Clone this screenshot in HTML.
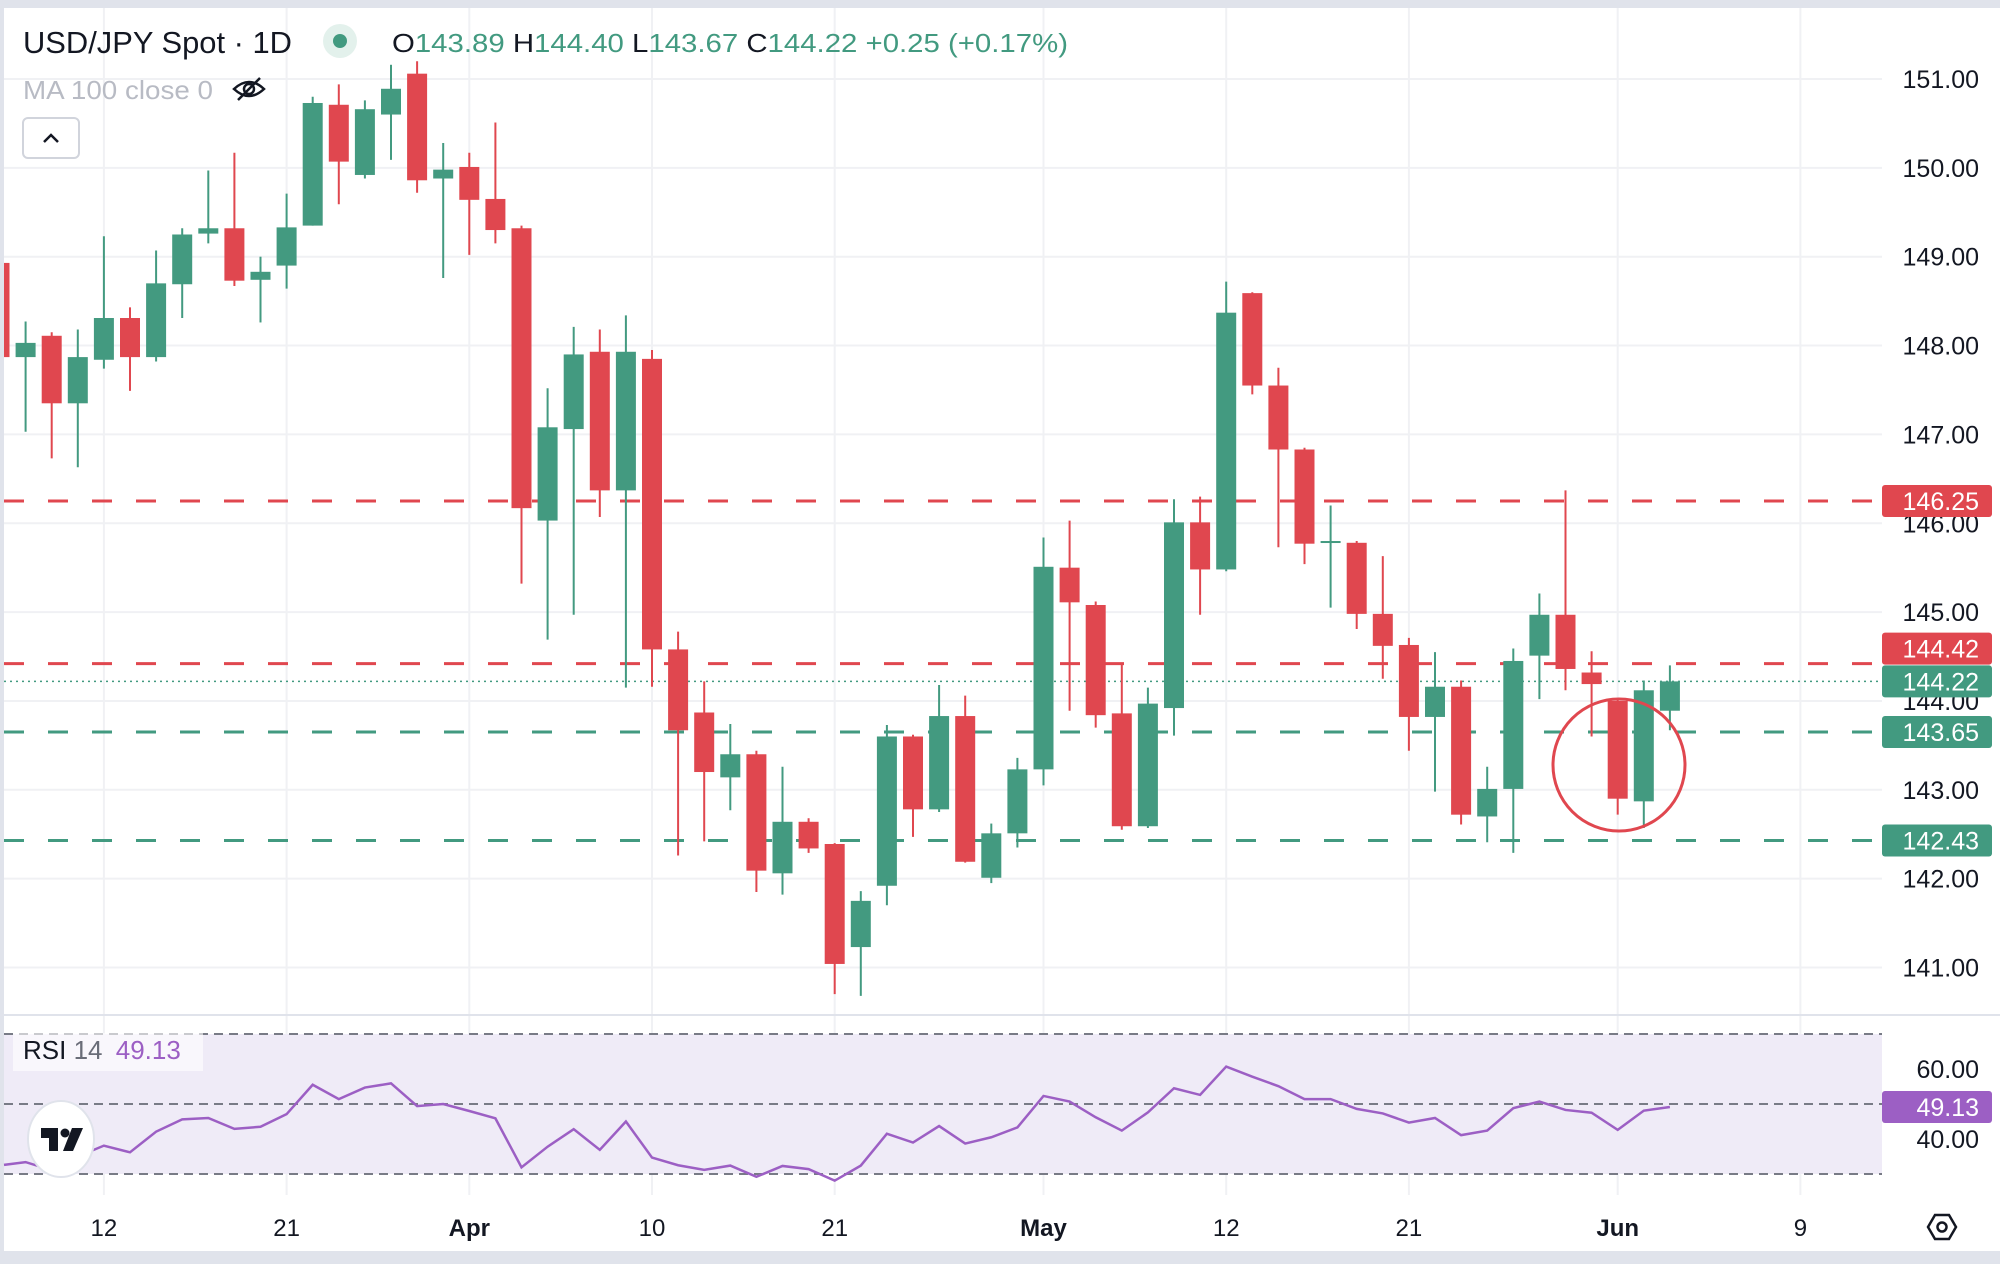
<!DOCTYPE html>
<html><head><meta charset="utf-8"><style>
html,body{margin:0;padding:0;background:#fff;}
svg{display:block;font-family:"Liberation Sans",sans-serif;}
</style></head><body>
<svg id="chart" width="2000" height="1264" viewBox="0 0 2000 1264" xmlns="http://www.w3.org/2000/svg">
<rect x="0" y="0" width="2000" height="1264" fill="#fff"/>
<rect x="0" y="0" width="2000" height="8" fill="#e0e3eb"/>
<rect x="0" y="0" width="4" height="1264" fill="#e0e3eb"/>
<rect x="0" y="1251" width="2000" height="13" fill="#e0e3eb"/>
<g id="grid"></g>
<rect x="4" y="1034" width="1878" height="140" fill="#efebf7"/>
<line x1="4" y1="1015" x2="2000" y2="1015" stroke="#e0e3eb" stroke-width="2"/>
<g id="levels"></g>
<g id="candles"></g>
<g id="rsi"></g>
<g id="axis"></g>
<circle cx="1619" cy="765" r="66" fill="none" stroke="#e0474f" stroke-width="3"/>
<g id="tags"></g>
<!-- header -->
<text x="23" y="53" font-size="31" fill="#131722" textLength="269" lengthAdjust="spacingAndGlyphs">USD/JPY Spot · 1D</text>
<circle cx="340" cy="41" r="17" fill="#e3f1ec"/>
<circle cx="340" cy="41" r="7" fill="#429a80"/>
<text x="392" y="52" font-size="26" fill="#429a80" textLength="676" lengthAdjust="spacingAndGlyphs"><tspan fill="#131722">O</tspan>143.89 <tspan fill="#131722">H</tspan>144.40 <tspan fill="#131722">L</tspan>143.67 <tspan fill="#131722">C</tspan>144.22 +0.25 (+0.17%)</text>
<text x="23" y="99" font-size="26" fill="#b8bbc4" textLength="190" lengthAdjust="spacingAndGlyphs">MA 100 close 0</text>
<g transform="translate(249,89)" fill="none" stroke="#131722" stroke-width="2.5">
<path d="M-15 0 Q0 -14 15 0 Q0 14 -15 0Z"/><circle cx="0" cy="0" r="5"/><line x1="-11" y1="11" x2="11" y2="-11"/></g>
<rect x="23" y="118" width="56" height="40" rx="5" fill="#fff" stroke="#d1d4dc" stroke-width="2"/>
<path d="M44 142 L51 135 L58 142" fill="none" stroke="#131722" stroke-width="2.5"/>
<rect x="13" y="1033" width="190" height="38" fill="#ffffff" opacity="0.6"/>
<text x="23" y="1059" font-size="26" fill="#131722">RSI <tspan fill="#6a6d78">14</tspan> <tspan fill="#9c5fc4" dx="6">49.13</tspan></text>
<g>
<ellipse cx="61" cy="1139" rx="33" ry="38" fill="#fff" stroke="#e0e3eb" stroke-width="2"/>
<path d="M41 1128 H58 V1151 H49 V1138 H41Z" fill="#131722"/>
<circle cx="65" cy="1133" r="4.5" fill="#131722"/>
<path d="M72 1128 H83 L73 1151 H63Z" fill="#131722"/>
</g>
<g transform="translate(1942,1227)" fill="none" stroke="#131722" stroke-width="2.5">
<path d="M-7 -12 L7 -12 L14 0 L7 12 L-7 12 L-14 0Z"/><circle r="4.5"/></g>
</svg>
<script>
const ohlcOpen  = [148.93,147.87,148.11,147.35,147.84,148.31,147.87,148.69,149.26,149.32,148.74,148.90,149.35,150.71,149.92,150.60,151.06,149.88,150.01,149.65,149.32,146.03,147.06,147.93,146.37,147.85,144.58,143.87,143.14,143.40,142.06,142.64,142.39,141.23,141.92,143.60,142.78,143.83,142.01,142.51,143.23,145.50,145.08,143.86,142.59,143.92,146.01,145.48,148.59,147.55,146.83,145.78,145.78,144.98,144.63,143.82,144.16,142.70,143.01,144.51,144.97,144.32,144.00,142.87,143.89];
const ohlcHigh  = [149.00,148.27,148.15,148.18,149.23,148.43,149.07,149.32,149.97,150.17,149.00,149.71,150.80,150.94,150.76,151.16,151.20,150.28,150.17,150.51,149.35,147.52,148.21,148.18,148.34,147.95,144.78,144.22,143.74,143.44,143.26,142.68,142.40,141.86,143.73,143.62,144.18,144.06,142.62,143.36,145.84,146.03,145.12,144.41,144.15,146.27,146.30,148.72,148.60,147.75,146.85,146.20,145.80,145.63,144.71,144.55,144.23,143.26,144.59,145.21,146.37,144.56,144.02,144.23,144.40];
const ohlcLow   = [147.87,147.03,146.73,146.63,147.74,147.49,147.82,148.31,149.15,148.67,148.26,148.64,149.35,149.59,149.88,150.09,149.72,148.76,149.02,149.15,145.32,144.69,144.97,146.07,144.15,144.16,142.26,142.42,142.77,141.85,141.82,142.29,140.70,140.68,141.70,142.47,142.75,142.18,141.95,142.35,143.05,143.89,143.70,142.55,142.57,143.61,144.97,145.46,147.45,145.73,145.54,145.05,144.81,144.25,143.44,142.98,142.61,142.41,142.29,144.02,144.12,143.60,142.72,142.57,143.67];
const ohlcClose = [147.87,148.03,147.35,147.87,148.31,147.87,148.70,149.25,149.32,148.73,148.83,149.33,150.73,150.07,150.66,150.89,149.86,149.98,149.64,149.30,146.17,147.08,147.90,146.37,147.93,144.58,143.67,143.20,143.40,142.09,142.64,142.34,141.04,141.75,143.60,142.78,143.83,142.19,142.51,143.23,145.51,145.11,143.84,142.59,143.97,146.01,145.48,148.37,147.55,146.83,145.77,145.80,144.98,144.62,143.82,144.16,142.72,143.01,144.45,144.97,144.36,144.19,142.90,144.12,144.22];
const rsiValues = [32.6,33.4,31.1,35.0,38.1,36.2,42.1,45.6,46.0,42.9,43.5,47.1,55.5,51.4,54.7,55.9,49.4,50.0,48.0,45.9,31.9,37.8,42.8,36.9,45.0,34.7,32.5,31.2,32.4,29.2,32.3,31.4,28.1,32.4,41.5,39.0,43.7,38.7,40.5,43.3,52.3,50.7,46.2,42.4,47.6,54.5,52.6,60.7,57.8,55.1,51.4,51.4,48.6,47.3,44.7,46.0,41.1,42.4,48.8,50.7,48.3,47.5,42.6,48.1,49.13];
const priceTicks = [151,150,149,148,147,146,145,144,143,142,141];
const rsiTicks = [60,40];
const rsiLevels = [70,50,30];
const dateIdx = [4,11,18,25,32,40,47,54,62,69];
const dateLabels = ["12","21","Apr","10","21","May","12","21","Jun","9"];
const dateBold = [false,false,true,false,false,true,false,false,true,false];
const levelPrices = [146.25,144.42,143.65,142.43];
const levelColors = ["#e0474f","#e0474f","#429a80","#429a80"];
const lastPrice = 144.22;
const tagPrices = [146.25,144.42,144.22,143.65,142.43];
const tagColors = ["#e0474f","#e0474f","#429a80","#429a80","#429a80"];

const NS="http://www.w3.org/2000/svg";
const X=i=>26.1*i-0.5;
const Y=p=>79+(151-p)*88.85;
const RY=v=>1104-(v-50)*3.5;
const PANE_R=1882;
function mk(tag,attrs,parent){const e=document.createElementNS(NS,tag);for(const k in attrs)e.setAttribute(k,attrs[k]);parent.appendChild(e);return e;}
const grid=document.getElementById('grid'),levels=document.getElementById('levels'),cg=document.getElementById('candles'),rg=document.getElementById('rsi'),ax=document.getElementById('axis'),tg=document.getElementById('tags');

dateIdx.forEach((d,k)=>{
  const l=mk('line',{x1:X(d),x2:X(d),y1:8,y2:1195,stroke:'#f0f1f4','stroke-width':2},grid);
  
  
  const t=mk('text',{x:X(d),y:1236,'font-size':24,'text-anchor':'middle',fill:'#131722','font-weight':dateBold[k]?'bold':'normal'},ax);
  t.textContent=dateLabels[k];
  
  
});
priceTicks.forEach(p=>{
  const l=mk('line',{x1:4,x2:PANE_R,y1:Y(p),y2:Y(p),stroke:'#f0f1f4','stroke-width':2},grid);
  
  
  const t=mk('text',{x:1979,y:Y(p)+9,'font-size':25,'text-anchor':'end',fill:'#131722'},ax);
  t.textContent=p.toFixed(2);
  
  
});
rsiTicks.forEach(v=>{
  const l=mk('line',{x1:4,x2:PANE_R,y1:RY(v),y2:RY(v),stroke:'#e4e0ee','stroke-width':2},grid);
  
  
  const t=mk('text',{x:1979,y:RY(v)+9,'font-size':25,'text-anchor':'end',fill:'#131722'},ax);
  t.textContent=v.toFixed(2);
  
  
});
levelPrices.forEach((p,k)=>{
  const l=mk('line',{x1:4,x2:PANE_R,y1:Y(p),y2:Y(p),stroke:levelColors[k],'stroke-width':3,'stroke-dasharray':'20 24'},levels);
  
  
});
const dl=mk('line',{x1:4,x2:PANE_R,y1:Y(lastPrice),y2:Y(lastPrice),stroke:'#429a80','stroke-width':1.5,'stroke-dasharray':'2 4'},levels);


rsiLevels.forEach(v=>{
  const l=mk('line',{x1:4,x2:PANE_R,y1:RY(v),y2:RY(v),stroke:'#787b86','stroke-width':2,'stroke-dasharray':'9 6'},levels);
  
  
});
const clip=mk('clipPath',{id:'pc'},cg);mk('rect',{x:4,y:8,width:PANE_R-4,height:1006},clip);
cg.setAttribute('clip-path','url(#pc)');
ohlcOpen.forEach((o,i)=>{
  const c=ohlcClose[i],up=c>=o,col=up?'#439a80':'#e0474f';
  const g=mk('g',{},cg);
  
  
  mk('line',{x1:X(i),x2:X(i),y1:Y(ohlcHigh[i]),y2:Y(ohlcLow[i]),stroke:col,'stroke-width':2},g);
  const top=Y(Math.max(o,c)),h=Math.max(2,Math.abs(Y(o)-Y(c)));
  mk('rect',{x:X(i)-10,y:top,width:20,height:h,fill:col},g);
});
const pts=rsiValues.map((v,i)=>Math.max(4,X(i))+','+RY(v)).join(' ');
const pl=mk('polyline',{points:pts,fill:'none',stroke:'#9c5fc4','stroke-width':2.5},rg);


const tagOffset=[0,-15,0,0,0];
tagPrices.forEach((p,k)=>{
  const g=mk('g',{},tg);
  
  
  const ty=Y(p)+tagOffset[k];
  mk('rect',{x:1882,y:ty-16,width:110,height:32,rx:3,fill:tagColors[k]},g);
  const t=mk('text',{x:1979,y:ty+9,'font-size':25,'text-anchor':'end',fill:'#fff'},g);
  t.textContent=p.toFixed(2);
});
const rg2=mk('g',{},tg);


const ry=RY(rsiValues[rsiValues.length-1]);
mk('rect',{x:1882,y:ry-16,width:110,height:32,rx:3,fill:'#9c5fc4'},rg2);
const rt=mk('text',{x:1979,y:ry+9,'font-size':25,'text-anchor':'end',fill:'#fff'},rg2);
rt.textContent=rsiValues[rsiValues.length-1].toFixed(2);
</script>
</body></html>
